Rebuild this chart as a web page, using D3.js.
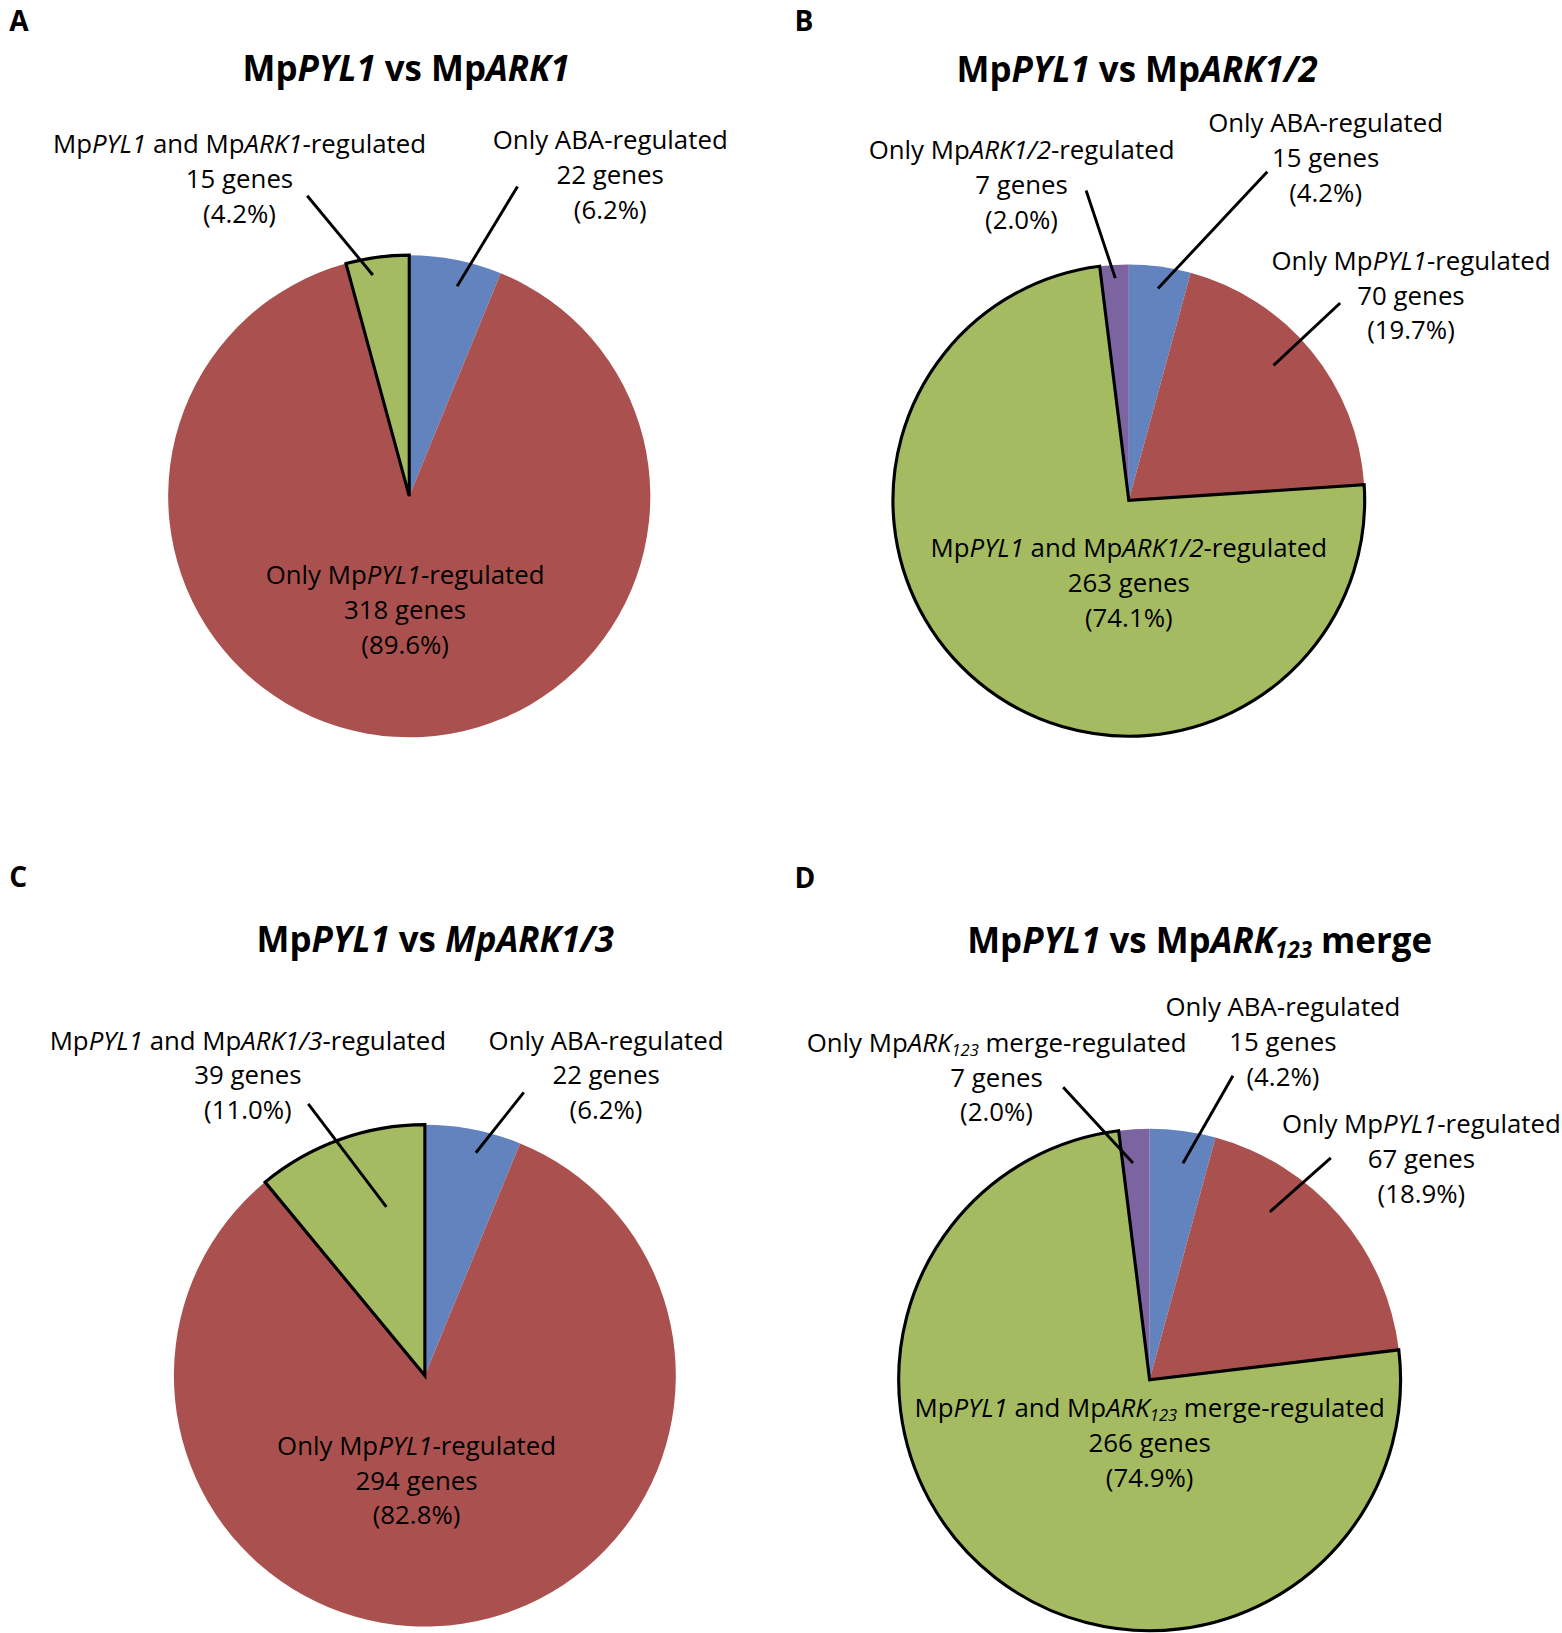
<!DOCTYPE html>
<html>
<head>
<meta charset="utf-8">
<script src="https://cdn.jsdelivr.net/npm/d3@7"></script>
<style>
  body { margin: 0; background: #fff; }
  svg text { font-family: "Open Sans", "Noto Sans", sans-serif; fill: #000; white-space: pre; }
</style>
</head>
<body>
<svg id="chart"></svg>
<script>
// ---------------- DATA ----------------
const panelLetters = ["A", "B", "C", "D"];
const titles = [
  "Mp<i>PYL1</i> vs Mp<i>ARK1</i>",
  "Mp<i>PYL1</i> vs Mp<i>ARK1/2</i>",
  "Mp<i>PYL1</i> vs <i>MpARK1/3</i>",
  "Mp<i>PYL1</i> vs Mp<i>ARK</i><sub>123</sub> merge"
];

// Panel A
const categoriesA = ["Only ABA-regulated", "Only Mp<i>PYL1</i>-regulated", "Mp<i>PYL1</i> and Mp<i>ARK1</i>-regulated"];
const kindsA = ["aba", "pyl", "both"];
const genesA = [22, 318, 15];
const percentA = ["6.2%", "89.6%", "4.2%"];

// Panel B
const categoriesB = ["Only ABA-regulated", "Only Mp<i>PYL1</i>-regulated", "Mp<i>PYL1</i> and Mp<i>ARK1/2</i>-regulated", "Only Mp<i>ARK1/2</i>-regulated"];
const kindsB = ["aba", "pyl", "both", "ark"];
const genesB = [15, 70, 263, 7];
const percentB = ["4.2%", "19.7%", "74.1%", "2.0%"];

// Panel C
const categoriesC = ["Only ABA-regulated", "Only Mp<i>PYL1</i>-regulated", "Mp<i>PYL1</i> and Mp<i>ARK1/3</i>-regulated"];
const kindsC = ["aba", "pyl", "both"];
const genesC = [22, 294, 39];
const percentC = ["6.2%", "82.8%", "11.0%"];

// Panel D
const categoriesD = ["Only ABA-regulated", "Only Mp<i>PYL1</i>-regulated", "Mp<i>PYL1</i> and Mp<i>ARK</i><sub>123</sub> merge-regulated", "Only Mp<i>ARK</i><sub>123</sub> merge-regulated"];
const kindsD = ["aba", "pyl", "both", "ark"];
const genesD = [15, 67, 266, 7];
const percentD = ["4.2%", "18.9%", "74.9%", "2.0%"];

// ---------------- STYLE / LAYOUT ----------------
const palette = { aba: "#6283be", pyl: "#aa514f", both: "#a4bb61", ark: "#7c64a1" };
const outlined = "both";

const W = 1562, H = 1633;
const VW = 1500, VH = H * VW / W;

const labelSize = 24.8, titleSize = 33.5, letterSize = 27, lineGap = 33.5;

// label placement: x,y = centre of first line; lx,ly = outer end of leader; t,k = inner end inside slice
const layouts = [
  { cx: 393, cy: 476.5, r: 231.5, tx: 390, ty: 78, lx0: 9, ly0: 30,
    labels: [
      { x: 586, y: 134.5, lx: 497, ly: 179, t: 0.576, k: 0.893 },
      { x: 389, y: 552 },
      { x: 230, y: 138, lx: 295, ly: 188, t: 0.385, k: 0.93 }
    ] },
  { cx: 1084, cy: 480.5, r: 226.5, tx: 1092, ty: 79, lx0: 763, ly0: 30,
    labels: [
      { x: 1273, y: 118, lx: 1217, ly: 165, t: 0.515, k: 0.907 },
      { x: 1355, y: 250, lx: 1287, ly: 291, t: 0.448, k: 0.839 },
      { x: 1084, y: 526 },
      { x: 981, y: 144, lx: 1043, ly: 183, t: 0.51, k: 0.944 }
    ] },
  { cx: 408, cy: 1321, r: 241, tx: 418, ty: 914, lx0: 9, ly0: 852,
    labels: [
      { x: 582, y: 999, lx: 503, ly: 1049, t: 0.578, k: 0.911 },
      { x: 400, y: 1388 },
      { x: 238, y: 999, lx: 296, ly: 1060, t: 0.675, k: 0.69 }
    ] },
  { cx: 1104, cy: 1325, r: 241, tx: 1152, ty: 915, lx0: 763, ly0: 853,
    labels: [
      { x: 1232, y: 967, lx: 1184, ly: 1033, t: 0.575, k: 0.873 },
      { x: 1365, y: 1079, lx: 1278, ly: 1112, t: 0.30, k: 0.823 },
      { x: 1104, y: 1352 },
      { x: 957, y: 1001, lx: 1021, ly: 1044, t: 0.38, k: 0.866 }
    ] }
];

const panelsData = [
  { cats: categoriesA, kinds: kindsA, genes: genesA, pct: percentA },
  { cats: categoriesB, kinds: kindsB, genes: genesB, pct: percentB },
  { cats: categoriesC, kinds: kindsC, genes: genesC, pct: percentC },
  { cats: categoriesD, kinds: kindsD, genes: genesD, pct: percentD }
];

// ---------------- DRAW ----------------
const svg = d3.select("#chart")
  .attr("width", W).attr("height", H)
  .attr("viewBox", `0 0 ${VW} ${VH}`);
svg.append("rect").attr("width", VW).attr("height", VH).attr("fill", "#fff");

function rich(textSel, markup, size) {
  const parts = markup.split(/(<i>.*?<\/i>|<sub>.*?<\/sub>)/).filter(s => s.length);
  let shifted = false;
  const shift = size * 0.15;
  parts.forEach(p => {
    let txt = p, italic = false, sub = false;
    if (p.startsWith("<i>")) { italic = true; txt = p.slice(3, -4); }
    else if (p.startsWith("<sub>")) { italic = true; sub = true; txt = p.slice(5, -6); }
    const ts = textSel.append("tspan").text(txt);
    if (italic) ts.attr("font-style", "italic");
    if (sub) { ts.attr("font-size", size * 0.64).attr("dy", shift); shifted = true; }
    else if (shifted) { ts.attr("dy", -shift); shifted = false; }
  });
}

const pie = d3.pie().sort(null).value(d => d.genes).startAngle(0).endAngle(2 * Math.PI);

panelsData.forEach((pd, pi) => {
  const L = layouts[pi];
  const g = svg.append("g").attr("class", "panel");

  g.append("text").attr("x", L.lx0).attr("y", L.ly0)
    .attr("font-size", letterSize).attr("font-weight", "bold").text(panelLetters[pi]);

  const title = g.append("text").attr("x", L.tx).attr("y", L.ty)
    .attr("text-anchor", "middle").attr("font-size", titleSize).attr("font-weight", "bold");
  rich(title, titles[pi], titleSize);

  const rows = pd.genes.map((v, i) => ({ genes: v, kind: pd.kinds[i], cat: pd.cats[i], pct: pd.pct[i], lab: L.labels[i] }));
  const arcs = pie(rows);
  const arc = d3.arc().innerRadius(0).outerRadius(L.r);
  const pg = g.append("g").attr("transform", `translate(${L.cx},${L.cy})`);

  const ordered = arcs.slice().sort((a, b) => (a.data.kind === outlined) - (b.data.kind === outlined));
  pg.selectAll("path").data(ordered).join("path")
    .attr("d", arc)
    .attr("fill", d => palette[d.data.kind])
    .attr("stroke", d => d.data.kind === outlined ? "#000" : "none")
    .attr("stroke-width", d => d.data.kind === outlined ? 3 : 0)
    .attr("stroke-linejoin", "miter");

  // leader lines
  arcs.forEach(a => {
    const lb = a.data.lab;
    if (lb.lx === undefined) return;
    const ang = a.startAngle + lb.t * (a.endAngle - a.startAngle);
    const ix = L.cx + lb.k * L.r * Math.sin(ang);
    const iy = L.cy - lb.k * L.r * Math.cos(ang);
    g.append("line").attr("x1", lb.lx).attr("y1", lb.ly).attr("x2", ix).attr("y2", iy)
      .attr("stroke", "#000").attr("stroke-width", 2.8);
  });

  // labels
  arcs.forEach(a => {
    const lb = a.data.lab;
    const lines = [a.data.cat, `${a.data.genes} genes`, `(${a.data.pct})`];
    lines.forEach((ln, li) => {
      const t = g.append("text").attr("x", lb.x).attr("y", lb.y + li * lineGap + labelSize * 0.36)
        .attr("text-anchor", "middle").attr("font-size", labelSize);
      rich(t, ln, labelSize);
    });
  });
});
</script>
</body>
</html>
